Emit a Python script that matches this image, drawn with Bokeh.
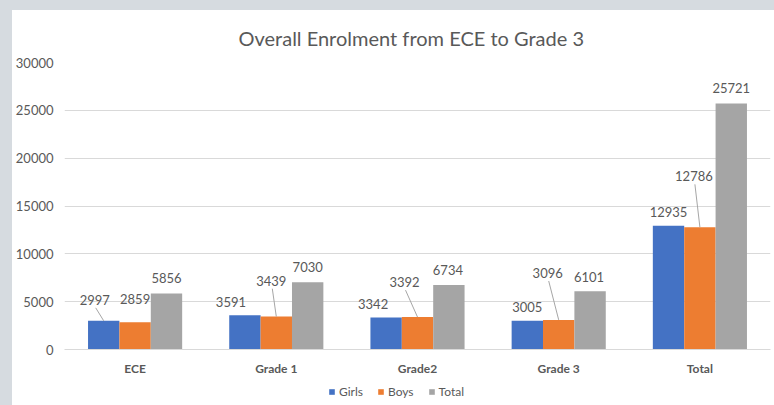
from bokeh.plotting import figure
from bokeh.layouts import column
from bokeh.models import Range1d, FixedTicker, Legend, LegendItem, ColumnDataSource, Title
from bokeh.embed import file_html
from bokeh.resources import INLINE
from bokeh.core.properties import value

# ---- data ----
categories = ["ECE", "Grade 1", "Grade2", "Grade 3", "Total"]
girls = [2997, 3591, 3342, 3005, 12935]
boys = [2859, 3439, 3392, 3096, 12786]
total = [5856, 7030, 6734, 6101, 25721]
y_ticks = [0, 5000, 10000, 15000, 20000, 25000, 30000]

# ---- layout / style ----
W, H = 762, 368
ML, MR, MT, MB = 51, 4, 51, 29
LEG_H = 27
frame_w = W - ML - MR
frame_h = H - MT - MB
YMAX = 30000
px_x = frame_w / len(categories)      # px per category unit
px_y = frame_h / YMAX                  # px per data unit
BAR_W = 1 / 4.5
offsets = [-BAR_W, 0, BAR_W]
colors = ["#4472C4", "#ED7D31", "#A5A5A5"]
FONT = "Lato"
TXT = "#595959"

# label placement (px relative to bar-top centre)
lab_dx = [[-9, -14, -13, 0, 0], [0, -5, -13, -11, -6], [0, 0, -1, -1, 0]]
lab_dy = [[21, 13, 14, 14, 14], [23, 36, 35, 47, 51], [15, 15, 15, 14, 15]]
leader = [[True, False, False, False, False], [False, True, True, True, True], [False] * 5]

p = figure(width=W, height=H, output_backend="svg", toolbar_location=None,
           x_range=Range1d(-0.5, len(categories) - 0.5), y_range=Range1d(0, YMAX),
           min_border_left=ML, min_border_right=MR, min_border_top=MT, min_border_bottom=MB,
           background_fill_color="white", border_fill_color="white", outline_line_color=None,
           margin=(10, 0, 0, 12), styles={"background-color": "white"})

p.add_layout(Title(text="Overall Enrolment from ECE to Grade 3", align="left", offset=174,
                   text_font=FONT, text_font_size="20px", text_font_style="normal",
                   text_color=TXT, standoff=26), "above")

series = [girls, boys, total]
names = ["Girls", "Boys", "Total"]
for i, (vals, name) in enumerate(zip(series, names)):
    xs = [k + offsets[i] for k in range(len(categories))]
    src = ColumnDataSource(dict(x=xs, top=vals, lab=[str(v) for v in vals],
                                xo=lab_dx[i], yo=[-d for d in lab_dy[i]]))
    p.vbar(x="x", top="top", width=BAR_W, source=src, fill_color=colors[i], line_color=None)
    # leader lines
    x0, y0, x1, y1 = [], [], [], []
    for k in range(len(categories)):
        if leader[i][k]:
            x0.append(xs[k] + (lab_dx[i][k] + 1) / px_x)
            y0.append(vals[k] + (lab_dy[i][k] - 8) / px_y)
            x1.append(xs[k])
            y1.append(vals[k])
    if x0:
        p.segment(x0=x0, y0=y0, x1=x1, y1=y1, line_color="#A6A6A6", line_width=1)
    p.text(x="x", y="top", text="lab", source=src, x_offset="xo", y_offset="yo",
           text_align="center", text_baseline="middle", text_font=value(FONT),
           text_font_size="13px", text_color=TXT)

# axes
p.xaxis.ticker = FixedTicker(ticks=list(range(len(categories))))
p.xaxis.major_label_overrides = {k: c for k, c in enumerate(categories)}
p.xaxis.major_label_text_font = FONT
p.xaxis.major_label_text_font_style = "bold"
p.xaxis.major_label_text_font_size = "12px"
p.xaxis.major_label_text_color = TXT
p.xaxis.major_label_standoff = 11
p.xaxis.axis_label_standoff = 0
p.xaxis.major_tick_out = 0
p.xaxis.axis_line_color = "#D9D9D9"
p.xaxis.major_tick_line_color = None
p.xaxis.minor_tick_line_color = None

p.yaxis.ticker = FixedTicker(ticks=y_ticks)
p.yaxis.major_label_text_font = FONT
p.yaxis.major_label_text_font_size = "13px"
p.yaxis.major_label_text_color = TXT
p.yaxis.major_label_standoff = 11
p.yaxis.axis_label_standoff = 0
p.yaxis.major_tick_out = 0
p.yaxis.axis_line_color = None
p.yaxis.major_tick_line_color = None
p.yaxis.minor_tick_line_color = None
p.yaxis.formatter.use_scientific = False

p.xgrid.grid_line_color = None
p.ygrid.grid_line_color = "#D9D9D9"
p.ygrid.ticker = FixedTicker(ticks=y_ticks)

# legend strip (separate small figure so the legend is not clipped)
pl = figure(width=W, height=LEG_H, output_backend="svg", toolbar_location=None,
            x_range=Range1d(0, 1), y_range=Range1d(0, 1),
            x_axis_location=None, y_axis_location=None,
            min_border_left=ML, min_border_right=MR, min_border_top=0, min_border_bottom=0,
            background_fill_color="white", border_fill_color="white", outline_line_color=None,
            margin=(0, 0, 0, 12), styles={"background-color": "white"})
pl.center = []
# legend keys: the series' colours, drawn outside the strip's visible range
leg_rs = [pl.vbar(x=[-10], top=[-10], width=0.1, fill_color=c, line_color=None) for c in colors]
legend = Legend(items=[LegendItem(label=n, renderers=[r]) for n, r in zip(names, leg_rs)],
                orientation="horizontal", location=(327 - 12 - ML, 6),
                glyph_width=7, glyph_height=7, label_standoff=4, spacing=14,
                padding=0, margin=0, border_line_color=None, background_fill_alpha=0,
                label_text_font=FONT, label_text_font_size="12px", label_text_color=TXT,
                label_height=14)
pl.add_layout(legend, "center")

lay = column(p, pl, spacing=0, styles={"background-color": "#D6DBE0"})
open("out.html", "w").write(file_html(lay, INLINE))
